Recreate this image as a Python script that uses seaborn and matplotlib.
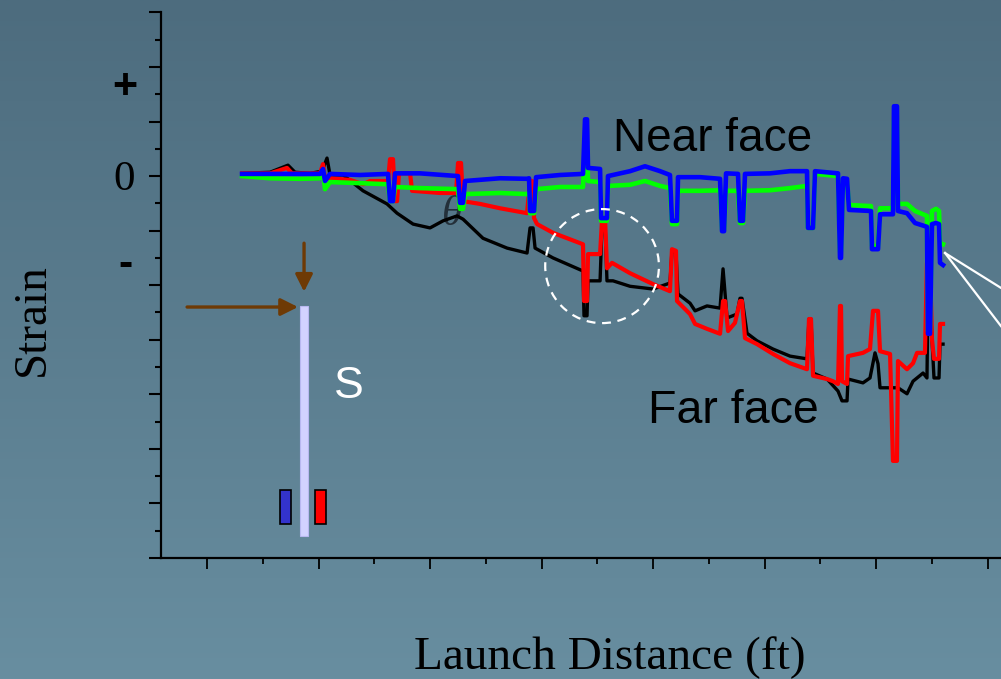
import numpy as np
import pandas as pd
import matplotlib
matplotlib.use("Agg")
import matplotlib.pyplot as plt
import seaborn as sns
from matplotlib.patches import Ellipse, Rectangle

# ---------------- data (x: launch distance in ft, y: strain in microstrain) ----------------
black_x = [3.14, 5.65, 7.26, 7.89, 9.24, 10.31, 10.76, 11.03, 12.20, 13.99, 16.14, 17.04, 18.48, 20.00,
           21.17, 22.42, 22.96, 24.75, 26.91, 28.70, 28.97, 29.24, 29.42, 31.03, 33.72, 33.81, 34.08,
           34.17, 35.25, 35.43, 35.70, 35.87, 36.41, 37.94, 40.00, 41.52, 41.70, 42.06, 42.24, 43.32,
           43.77, 44.84, 46.01, 46.28, 46.64, 47.53, 47.80, 47.98, 48.43, 49.33, 50.76, 52.29, 53.81,
           53.99, 54.17, 54.35, 55.61, 56.59, 56.95, 57.40, 57.49, 58.83, 59.46, 59.91, 60.18, 60.36,
           61.97, 62.78, 63.32, 64.22, 64.57, 64.66, 64.84, 65.02, 65.20, 65.65, 65.74, 66.01]
black_y = [5, 7, 20, 7, 5, 9, 33, 2, 2, -27, -51, -68, -88, -95,
           -82, -73, -79, -114, -132, -141, -95, -95, -132, -150, -174, -256, -256,
           -192, -192, -88, -88, -192, -192, -202, -207, -196, -137, -141, -216, -233,
           -247, -238, -242, -170, -260, -253, -224, -224, -288, -302, -317, -330, -335,
           -262, -262, -361, -372, -394, -412, -412, -372, -379, -370, -324, -344, -388,
           -388, -399, -376, -361, -370, -220, -220, -299, -370, -370, -308, -308]

red_x = [3.14, 5.65, 7.17, 7.62, 10.13, 10.40, 10.58, 11.03, 12.83, 13.99, 14.62, 16.23, 16.41, 16.68,
         16.86, 17.04, 17.22, 18.21, 18.39, 20.90, 22.33, 22.51, 22.78, 22.96, 24.48, 26.28, 28.70,
         28.97, 29.15, 29.33, 29.60, 31.03, 33.72, 33.81, 34.08, 34.17, 35.25, 35.43, 35.70, 35.87,
         36.32, 37.94, 40.00, 41.52, 41.70, 42.06, 42.15, 43.32, 43.77, 44.84, 46.01, 46.28, 46.46,
         46.73, 47.35, 47.80, 47.98, 48.25, 49.33, 50.76, 52.29, 53.81, 53.99, 54.17, 54.35, 55.61,
         56.14, 56.59, 56.77, 56.86, 56.95, 57.40, 57.49, 58.83, 59.46, 59.73, 60.18, 60.36, 61.26,
         61.52, 61.88, 61.97, 62.78, 63.32, 63.68, 64.39, 64.57, 64.84, 65.02, 65.20, 65.65, 65.74,
         66.01]
red_y = [5, 5, 15, 5, 5, 22, -5, -4, -7, -15, -9, -9, 31, 31,
         -46, -46, 5, 5, -27, -31, -31, 24, 24, -46, -51, -59, -68,
         -9, -9, -77, -88, -104, -125, -229, -229, -143, -143, -79, -79, -169,
         -159, -178, -198, -211, -134, -137, -229, -253, -271, -280, -289, -229, -229,
         -284, -269, -229, -229, -297, -308, -326, -343, -354, -262, -262, -366, -372,
         -376, -381, -238, -238, -376, -381, -330, -324, -317, -247, -247, -321, -326,
         -522, -522, -339, -354, -343, -324, -324, -159, -159, -299, -335, -335, -271,
         -271]

green_x = [3.14, 5.65, 8.34, 10.13, 10.40, 10.58, 11.03, 13.72, 16.23, 16.41, 16.68, 16.86, 19.10,
           22.51, 22.69, 22.96, 23.14, 26.28, 28.70, 28.88, 28.97, 29.33, 29.51, 31.66, 33.72, 33.90,
           34.08, 34.17, 35.25, 35.34, 35.87, 35.96, 37.94, 39.28, 40.63, 41.52, 41.70, 42.15, 42.24,
           44.22, 46.01, 46.19, 46.37, 46.55, 47.62, 47.80, 48.07, 48.25, 50.49, 52.29, 53.81, 53.90,
           54.35, 54.53, 56.59, 56.77, 56.86, 57.04, 57.40, 57.58, 59.55, 59.64, 60.18, 60.36, 61.52,
           61.61, 61.88, 61.97, 62.78, 63.50, 64.57, 64.66, 64.84, 65.02, 65.38, 65.65, 65.74, 66.01]
green_y = [0, -4, -5, -4, 9, -24, -11, -13, -15, -46, -46, -20, -22,
           -24, -60, -60, -33, -31, -33, -31, -68, -68, -24, -20, -20, 59,
           59, -9, -11, -82, -82, -18, -16, -9, -18, -22, -88, -88, -27,
           -27, -26, -97, -97, -27, -27, -86, -86, -27, -26, -22, -18, -95,
           -95, 4, 0, -137, -137, -9, -13, -53, -55, -128, -128, -59, -59,
           101, 101, -51, -51, -64, -73, -284, -284, -64, -60, -64, -123, -125]

blue_x = list(green_x)
blue_y = [4, 4, 4, 4, 13, -9, 4, 2, 4, -46, -46, 5, 5,
          0, -49, -49, -9, -4, -5, -4, -64, -64, -2, 2, 4, 104,
          104, 15, 13, -77, -77, 0, 9, 18, 9, 2, -82, -82, -2,
          -2, -5, -101, -101, 5, 4, -82, -82, 4, 5, 9, 9, -95,
          -95, 9, 5, -150, -150, -4, -5, -62, -64, -134, -134, -70, -70,
          128, 128, -64, -68, -86, -93, -289, -289, -88, -86, -88, -159, -163]

series_names = ["black", "red", "green", "blue"]
series_colors = ["#000000", "#ff0000", "#00ff00", "#0000ff"]
series_widths = [2.4, 3.0, 3.3, 3.3]

# ---------------- figure ----------------
W, H = 1001, 679
fig = plt.figure(figsize=(W / 100, H / 100), dpi=100)

# gradient background
bg = fig.add_axes([0, 0, 1, 1], zorder=0)
top = np.array([77, 108, 126]) / 255
bot = np.array([104, 142, 160]) / 255
t = np.linspace(0, 1, 256)[:, None]
grad = (top[None, :] * (1 - t) + bot[None, :] * t)[:, None, :]
bg.imshow(grad, extent=[0, 1, 0, 1], aspect="auto", origin="upper")
bg.set_xlim(0, 1)
bg.set_ylim(0, 1)
bg.axis("off")

def fx(px):
    return px / W

def fy(py):
    return 1 - py / H

ax = fig.add_axes([fx(161), fy(558), (1001 - 161) / W, (558 - 12.4) / H], zorder=1)
ax.patch.set_alpha(0)

xs = [black_x, red_x, green_x, blue_x]
ys = [black_y, red_y, green_y, blue_y]
for name, c, lw, x, y in zip(series_names, series_colors, series_widths, xs, ys):
    df = pd.DataFrame({"x": x, "y": y})
    sns.lineplot(data=df, x="x", y="y", sort=False, estimator=None, color=c, lw=lw, ax=ax)

ax.set_xlim(-4.13, 71.21)
ax.set_ylim(-700, 300)

for s in ["top", "right"]:
    ax.spines[s].set_visible(False)
for s in ["left", "bottom"]:
    ax.spines[s].set_color("black")
    ax.spines[s].set_linewidth(1.6)

ax.set_yticks(np.arange(-700, 301, 100))
ax.set_yticks(np.arange(-650, 300, 100), minor=True)
ax.set_xticks(np.arange(0, 71, 10))
ax.set_xticks(np.arange(5, 70, 10), minor=True)
ax.set_xticklabels([])
ax.set_yticklabels([])
ax.tick_params(axis="y", which="major", direction="out", length=8.6, width=1.5, color="black")
ax.tick_params(axis="y", which="minor", direction="out", length=4.3, width=1.5, color="black")
ax.tick_params(axis="x", which="major", direction="out", length=8.0, width=1.3, color="black")
ax.tick_params(axis="x", which="minor", direction="out", length=4.3, width=1.3, color="black")
ax.set_xlabel("")
ax.set_ylabel("")

serif = ["Liberation Serif", "DejaVu Serif"]
sans = ["Liberation Sans", "DejaVu Sans"]

# y "tick" labels
fig.text(fx(124), fy(190), "0", family=serif, fontsize=31, ha="center", va="baseline")
fig.text(fx(125), fy(98), "+", family=sans, fontweight="bold", fontsize=31, ha="center", va="baseline")
fig.text(fx(125), fy(276), "-", family=sans, fontweight="bold", fontsize=31, ha="center", va="baseline")

# axis titles
fig.text(fx(33), fy(320), "Strain", family=serif, fontsize=34, rotation=90, ha="center", va="center")
fig.text(fx(610), fy(669), "Launch Distance (ft)", family=serif, fontsize=34, ha="center", va="baseline")

# annotations inside the plot
ax.text(36.41, 46, "Near face", family=sans, fontsize=33, ha="left", va="baseline", color="black")
ax.text(39.55, -452, "Far face", family=sans, fontsize=33.5, ha="left", va="baseline", color="black")
ax.text(11.39, -407, "S", family=sans, fontsize=32, ha="left", va="baseline", color="white")
ax.text(21.97, -70, "θ", family=serif, style="italic", fontsize=30, ha="center", va="center",
        color="#24303a", zorder=0.5)

# dashed circle
ax.add_patch(Ellipse((35.43, -165), width=10.2, height=209, fill=False, ec="white",
                     lw=1.6, ls=(0, (4, 3)), zorder=5))

# callout lines
ax.plot([66.19, 71.21], [-141, -205], color="white", lw=1.6, clip_on=False, zorder=5)
ax.plot([66.19, 71.21], [-141, -275], color="white", lw=1.6, clip_on=False, zorder=5)

# specimen sketch
brown = "#6e3a05"
ax.annotate("", xy=(8.16, -240), xytext=(-1.79, -240),
            arrowprops=dict(arrowstyle="-|>", color=brown, lw=2.4, mutation_scale=26,
                            shrinkA=0, shrinkB=0), annotation_clip=False)
ax.annotate("", xy=(8.70, -212), xytext=(8.70, -123),
            arrowprops=dict(arrowstyle="-|>", color=brown, lw=2.4, mutation_scale=26,
                            shrinkA=0, shrinkB=0), annotation_clip=False)
ax.add_patch(Rectangle((8.34, -660), 0.72, 422, fc="#d2d2ff", ec="#b8b8f0", lw=0.8, zorder=3))
ax.add_patch(Rectangle((6.55, -638), 0.98, 63, fc="#3333cc", ec="black", lw=1.2, zorder=3))
ax.add_patch(Rectangle((9.69, -638), 0.98, 63, fc="#ff0000", ec="black", lw=1.2, zorder=3))

fig.savefig("out.png", dpi=100)
